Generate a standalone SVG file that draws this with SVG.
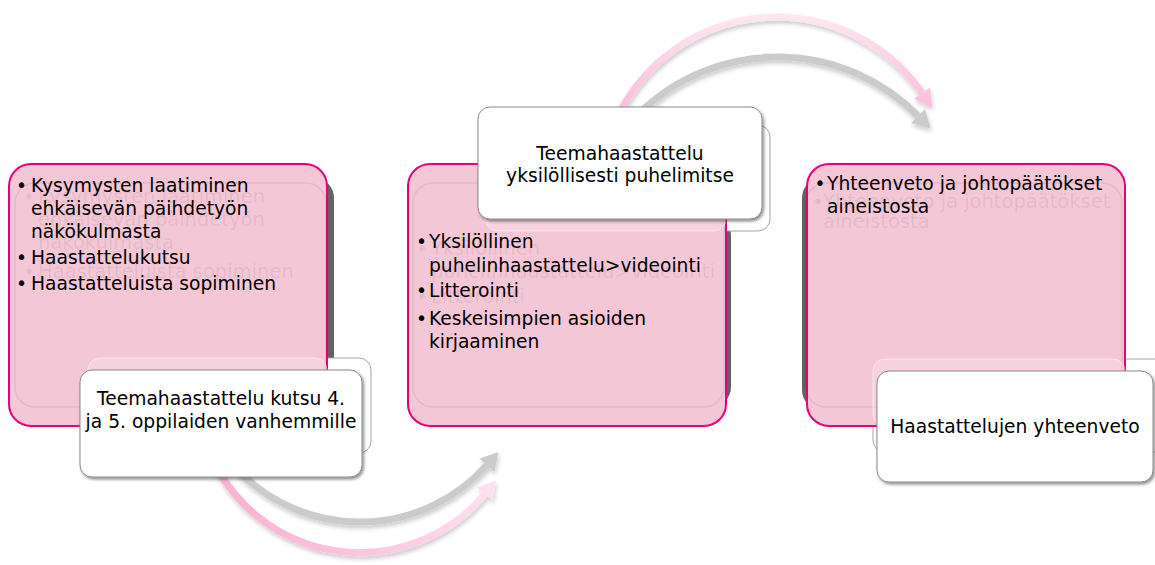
<svg xmlns="http://www.w3.org/2000/svg" width="1155" height="565" viewBox="0 0 1155 565">
  <defs>
    <style>
      .t { font-family: "DejaVu Sans", Verdana, sans-serif; font-size: 18.7px; fill: #000; }
      .c { text-anchor: middle; }
      .g { font-family: "DejaVu Sans", Verdana, sans-serif; font-size: 19.5px; fill: #000; fill-opacity: 0.08; }
      .pink { fill: #f4c7d6; stroke: #e6007e; stroke-width: 2; }
      .shade { fill: #626262; }
      .inner { fill: none; stroke: #000; stroke-opacity: 0.07; stroke-width: 1.5; }
      .gw { fill: #fff; stroke: #a4a4a4; stroke-width: 1; }
      .gov { fill: #fff; fill-opacity: 0.22; stroke: #fff; stroke-opacity: 0.5; stroke-width: 1; }
      .wbox { fill: #fff; stroke: #8a8a8a; stroke-width: 1; filter: url(#sh); }
      .arcp { fill: none; stroke-width: 7; }
    </style>
    <filter id="sh" x="-10%" y="-10%" width="125%" height="130%">
      <feDropShadow dx="1.5" dy="2" stdDeviation="1.5" flood-color="#000" flood-opacity="0.45"/>
    </filter>
    <filter id="ash" x="-10%" y="-10%" width="125%" height="130%">
      <feDropShadow dx="1" dy="3" stdDeviation="2" flood-color="#000" flood-opacity="0.2"/>
    </filter>
    <linearGradient id="pkTop" gradientUnits="userSpaceOnUse" x1="0" y1="12" x2="0" y2="125">
      <stop offset="0" stop-color="#fde9f2"/>
      <stop offset="1" stop-color="#f9b6d5"/>
    </linearGradient>
    <linearGradient id="pkBot" gradientUnits="userSpaceOnUse" x1="260" y1="558" x2="500" y2="470">
      <stop offset="0" stop-color="#fab3d4"/>
      <stop offset="1" stop-color="#fde4ef"/>
    </linearGradient>
  </defs>

  <g id="connectors">
    <g filter="url(#ash)">
      <path class="arcp" stroke="url(#pkTop)" d="M 616 120 A 177 177 0 0 1 922 93"/>
      <polygon fill="url(#pkTop)" points="932,107.5 930.2,87.3 913.8,98.7"/>
    </g>
    <g filter="url(#ash)">
      <path class="arcp" stroke="#cbcbcb" d="M 640 112.5 A 197.5 197.5 0 0 1 918 116"/>
      <polygon fill="#cbcbcb" points="930.6,128.8 925.1,109 910.9,123"/>
    </g>
    <g filter="url(#ash)">
      <path class="arcp" stroke="url(#pkBot)" d="M 218 470 A 163 163 0 0 0 485 494"/>
      <polygon fill="url(#pkBot)" points="496,480.5 492.7,500.4 477.3,487.6"/>
    </g>
    <g filter="url(#ash)">
      <path class="arcp" stroke="#cbcbcb" d="M 237.6 470 A 170 170 0 0 0 487 465"/>
      <polygon fill="#cbcbcb" points="498.5,452 494.5,471.7 479.5,458.4"/>
    </g>
  </g>

  <g id="node1">
    <rect class="shade" x="16" y="178" width="318" height="232" rx="20"/>
    <rect class="gw" x="88" y="358" width="283" height="95" rx="12"/>
    <rect class="pink" x="9" y="164" width="318" height="262" rx="22"/>
    <rect class="inner" x="15" y="183" width="311" height="224" rx="20"/>
    <rect class="gov" x="88" y="358" width="239" height="68" rx="12"/>
    <text class="g" x="29" y="203" text-anchor="middle">•</text>
    <text class="g" x="38" y="203">Kysymysten laatiminen</text>
    <text class="g" x="38" y="226">ehkäisevän päihdetyön</text>
    <text class="g" x="38" y="249">näkökulmasta</text>
    <text class="g" x="29" y="278" text-anchor="middle">•</text>
    <text class="g" x="38" y="278">Haastatteluista sopiminen</text>
    <text class="t c" x="21.5" y="192">•</text>
    <text class="t" x="31" y="192">Kysymysten laatiminen</text>
    <text class="t" x="31" y="215">ehkäisevän päihdetyön</text>
    <text class="t" x="31" y="238">näkökulmasta</text>
    <text class="t c" x="21.5" y="264">•</text>
    <text class="t" x="31" y="264">Haastattelukutsu</text>
    <text class="t c" x="21.5" y="290">•</text>
    <text class="t" x="31" y="290">Haastatteluista sopiminen</text>
    <rect class="wbox" x="80" y="370" width="282" height="107" rx="12"/>
    <text class="t c" x="221" y="405">Teemahaastattelu kutsu 4.</text>
    <text class="t c" x="221" y="428">ja 5. oppilaiden vanhemmille</text>
  </g>

  <g id="node2">
    <rect class="shade" x="413" y="215" width="318" height="192" rx="20"/>
    <rect class="gw" x="486" y="125" width="284" height="106" rx="12"/>
    <rect class="pink" x="408" y="164" width="318" height="262" rx="22"/>
    <rect class="inner" x="413" y="183" width="311" height="224" rx="20"/>
    <rect class="gov" x="486" y="164" width="240" height="67" rx="12"/>
    <text class="g" x="422" y="255" text-anchor="middle">•</text>
    <text class="g" x="431" y="255">Yksilöllinen</text>
    <text class="g" x="431" y="278">puhelinhaastattelu&gt;videointi</text>
    <text class="g" x="422" y="303" text-anchor="middle">•</text>
    <text class="g" x="431" y="303">Litterointi</text>
    <text class="t c" x="421.5" y="248">•</text>
    <text class="t" x="429" y="248">Yksilöllinen</text>
    <text class="t" x="429" y="272">puhelinhaastattelu&gt;videointi</text>
    <text class="t c" x="421.5" y="297">•</text>
    <text class="t" x="429" y="297">Litterointi</text>
    <text class="t c" x="421.5" y="325">•</text>
    <text class="t" x="429" y="325">Keskeisimpien asioiden</text>
    <text class="t" x="429" y="348">kirjaaminen</text>
    <rect class="wbox" x="478" y="107" width="284" height="112" rx="12"/>
    <text class="t c" x="620" y="160">Teemahaastattelu</text>
    <text class="t c" x="620" y="182">yksilöllisesti puhelimitse</text>
  </g>

  <g id="node3">
    <rect class="shade" x="802" y="178" width="318" height="232" rx="20"/>
    <rect class="gw" x="873" y="359" width="295" height="93" rx="12"/>
    <rect class="pink" x="807" y="164" width="318" height="262" rx="22"/>
    <rect class="inner" x="806" y="183" width="316" height="224" rx="20"/>
    <rect class="gov" x="873" y="359" width="252" height="67" rx="12"/>
    <text class="g" x="818" y="208" text-anchor="middle">•</text>
    <text class="g" x="823" y="208">Yhteenveto ja johtopäätökset</text>
    <text class="g" x="823" y="228">aineistosta</text>
    <text class="t c" x="820" y="190">•</text>
    <text class="t" x="827" y="190">Yhteenveto ja johtopäätökset</text>
    <text class="t" x="827" y="213">aineistosta</text>
    <rect class="wbox" x="877" y="371" width="276" height="111" rx="12"/>
    <text class="t c" x="1015" y="433">Haastattelujen yhteenveto</text>
  </g>
</svg>
